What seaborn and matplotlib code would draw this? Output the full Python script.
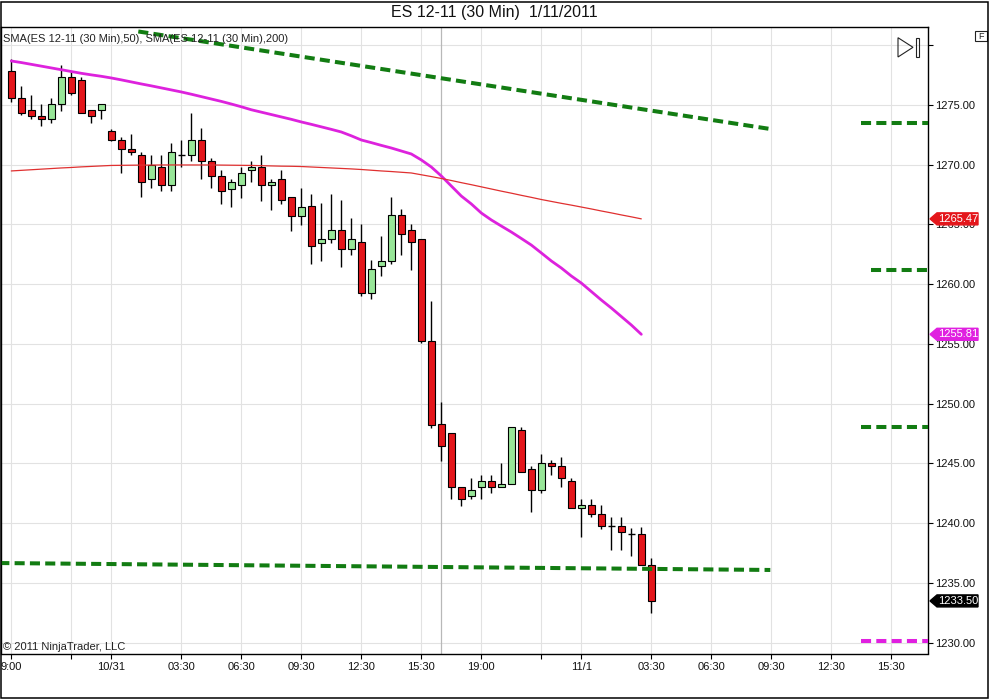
import matplotlib
matplotlib.use("Agg")
import matplotlib.pyplot as plt
import matplotlib.transforms as mtrans
from matplotlib.patches import Polygon, Rectangle
import seaborn as sns
import numpy as np
import pandas as pd

# ---------------- data ----------------
opens = [1277.85, 1275.56, 1274.56, 1274.08, 1273.80, 1275.06, 1277.30, 1277.10, 1274.56, 1274.56,
         1272.80, 1272.05, 1271.30, 1270.80, 1268.78, 1269.79, 1268.28, 1270.80, 1270.80, 1272.05,
         1270.30, 1269.03, 1268.00, 1268.28, 1269.54, 1269.80, 1268.28, 1268.78, 1267.28, 1265.74,
         1266.53, 1263.48, 1263.76, 1264.51, 1262.97, 1263.50, 1259.30, 1261.50, 1261.97, 1265.77,
         1264.51, 1263.76, 1255.28, 1248.28, 1247.53, 1243.01, 1242.26, 1243.00, 1243.51, 1243.01,
         1243.26, 1247.78, 1244.51, 1242.76, 1245.00, 1244.76, 1243.51, 1241.25, 1241.50, 1240.75,
         1239.75, 1239.75, 1239.13, 1239.07, 1236.53]
highs = [1278.85, 1276.60, 1275.84, 1275.08, 1275.60, 1278.35, 1277.85, 1277.30, 1274.56, 1275.06,
         1273.00, 1272.30, 1272.55, 1271.04, 1270.80, 1270.80, 1271.80, 1272.05, 1274.30, 1273.05,
         1270.54, 1269.56, 1268.78, 1269.79, 1270.30, 1270.80, 1268.78, 1269.54, 1267.28, 1268.03,
         1267.53, 1266.77, 1267.55, 1267.05, 1265.52, 1265.02, 1262.00, 1264.00, 1267.28, 1266.27,
         1265.02, 1263.76, 1258.62, 1250.12, 1247.53, 1243.01, 1243.76, 1244.01, 1244.01, 1245.00,
         1248.03, 1248.03, 1244.76, 1245.77, 1245.27, 1245.52, 1243.76, 1242.00, 1242.00, 1241.50,
         1240.50, 1240.50, 1239.60, 1239.70, 1237.12]
lows = [1275.28, 1274.20, 1273.80, 1273.24, 1273.50, 1274.50, 1275.80, 1274.30, 1273.50, 1273.80,
        1272.00, 1269.30, 1270.80, 1267.28, 1268.03, 1267.78, 1267.78, 1269.80, 1270.30, 1268.78,
        1268.03, 1266.70, 1266.50, 1267.24, 1268.53, 1267.00, 1266.24, 1266.74, 1264.48, 1264.98,
        1261.72, 1261.97, 1263.48, 1261.47, 1262.47, 1259.00, 1258.80, 1260.70, 1261.72, 1262.47,
        1261.22, 1255.10, 1248.00, 1245.21, 1242.00, 1241.47, 1242.00, 1242.00, 1242.51, 1243.01,
        1243.26, 1244.26, 1240.97, 1242.51, 1244.01, 1243.01, 1241.25, 1238.82, 1240.50, 1239.49,
        1237.76, 1237.76, 1237.26, 1236.53, 1232.52]
closes = [1275.56, 1274.31, 1274.05, 1273.80, 1275.08, 1277.30, 1276.00, 1274.30, 1274.05, 1275.06,
          1272.05, 1271.30, 1271.05, 1268.53, 1270.00, 1268.28, 1271.04, 1270.80, 1272.05, 1270.30,
          1269.03, 1267.78, 1268.53, 1269.28, 1269.79, 1268.28, 1268.53, 1267.03, 1265.74, 1266.49,
          1263.23, 1263.76, 1264.51, 1262.97, 1263.76, 1259.30, 1261.25, 1261.97, 1265.77, 1264.23,
          1263.50, 1255.28, 1248.22, 1246.49, 1243.01, 1242.00, 1242.76, 1243.51, 1243.01, 1243.26,
          1248.03, 1244.26, 1242.76, 1245.00, 1244.76, 1243.76, 1241.25, 1241.50, 1240.75, 1239.75,
          1239.75, 1239.30, 1239.13, 1236.53, 1233.50]

sma50 = [1278.68, 1278.55, 1278.40, 1278.25, 1278.10, 1277.95, 1277.80, 1277.65, 1277.52, 1277.40,
         1277.26, 1277.10, 1276.93, 1276.76, 1276.60, 1276.43, 1276.26, 1276.09, 1275.90, 1275.70,
         1275.50, 1275.30, 1275.08, 1274.85, 1274.60, 1274.40, 1274.20, 1274.00, 1273.80, 1273.58,
         1273.38, 1273.17, 1272.96, 1272.74, 1272.42, 1272.07, 1271.85, 1271.62, 1271.40, 1271.15,
         1270.90, 1270.40, 1269.81, 1269.06, 1268.22, 1267.38, 1266.72, 1265.96, 1265.38, 1264.87,
         1264.37, 1263.83, 1263.28, 1262.62, 1261.95, 1261.36, 1260.69, 1260.10, 1259.39, 1258.68,
         1258.01, 1257.30, 1256.59, 1255.81]
sma200 = [1269.48, 1269.53, 1269.58, 1269.63, 1269.68, 1269.73, 1269.77, 1269.82, 1269.86, 1269.90,
          1269.94, 1269.95, 1269.96, 1269.97, 1269.97, 1269.98, 1269.98, 1269.98, 1269.98, 1269.98,
          1269.98, 1269.97, 1269.96, 1269.95, 1269.94, 1269.92, 1269.90, 1269.88, 1269.87, 1269.85,
          1269.81, 1269.77, 1269.73, 1269.69, 1269.65, 1269.60, 1269.54, 1269.48, 1269.43, 1269.37,
          1269.31, 1269.16, 1269.01, 1268.85, 1268.68, 1268.50, 1268.33, 1268.15, 1267.97, 1267.79,
          1267.62, 1267.44, 1267.27, 1267.09, 1266.93, 1266.77, 1266.62, 1266.46, 1266.30, 1266.13,
          1265.97, 1265.80, 1265.64, 1265.47]

# drawn trend lines (bar index, price)
trend_top_x = [12.7, 75.9]
trend_top_y = [1281.15, 1272.99]
trend_bot_x = [-1.2, 75.9]
trend_bot_y = [1236.67, 1236.09]
# short horizontal level lines on the right (start bar index, price)
green_level_start = [85.0, 86.0, 85.0]
green_level_price = [1273.47, 1261.20, 1248.05]
magenta_level_start = [85.0]
magenta_level_price = [1230.12]

# price flags
flag_values = [1265.47, 1255.81, 1233.50]
flag_colors = ["#e4161b", "#e020e0", "#000000"]

xtick_pos = [0, 6, 10, 17, 23, 29, 35, 41, 47, 53, 57, 64, 70, 76, 82, 88]
xtick_lab = ["9:00", "", "10/31", "03:30", "06:30", "09:30", "12:30", "15:30", "19:00", "",
             "11/1", "03:30", "06:30", "09:30", "12:30", "15:30"]
ytick_pos = [1230, 1235, 1240, 1245, 1250, 1255, 1260, 1265, 1270, 1275, 1280]
session_break = 43

title = "ES 12-11 (30 Min)  1/11/2011"
legend_txt = "SMA(ES 12-11 (30 Min),50), SMA(ES 12-11 (30 Min),200)"
copyright_txt = "\u00a9 2011 NinjaTrader, LLC"

# ---------------- style ----------------
sns.set_theme(style="white")
plt.rcParams["font.family"] = ["Liberation Sans", "DejaVu Sans"]

W, H = 989, 699
fig = plt.figure(figsize=(W / 100, H / 100), dpi=100)
fig.patch.set_facecolor("white")
ax = fig.add_axes([1 / W, 1 - 653.5 / H, 927.3 / W, (653.5 - 26.7) / H])
ax.set_facecolor("white")

XMIN, XMAX = -1.03, 91.7
YMIN, YMAX = 1229.10, 1281.55
ax.set_xlim(XMIN, XMAX)
ax.set_ylim(YMIN, YMAX)

# grid
for yv in ytick_pos:
    ax.axhline(yv, color="#e2e2e2", lw=0.8, zorder=0)
for xv in xtick_pos:
    ax.axvline(xv, color="#e2e2e2", lw=0.8, zorder=0)
ax.axvline(session_break, color="#b8b8b8", lw=0.9, zorder=0)

# candles
df = pd.DataFrame({"o": opens, "h": highs, "l": lows, "c": closes})
df["i"] = np.arange(len(df))
ax.vlines(df["i"], df["l"], df["h"], color="black", lw=1.0, zorder=2)
up = df[df["c"] > df["o"]]
dn = df[df["c"] < df["o"]]
dj = df[df["c"] == df["o"]]
ax.bar(up["i"], up["c"] - up["o"], bottom=up["o"], width=0.7, color="#98e698",
       edgecolor="black", lw=0.8, zorder=3)
ax.bar(dn["i"], dn["o"] - dn["c"], bottom=dn["c"], width=0.7, color="#e4161b",
       edgecolor="black", lw=0.8, zorder=3)
ax.hlines(dj["o"], dj["i"] - 0.35, dj["i"] + 0.35, color="black", lw=1.0, zorder=3)

# SMAs
sma_idx = np.arange(len(sma50))
sns.lineplot(x=sma_idx, y=sma50, ax=ax, color="#dd22dd", lw=2.0, zorder=4)
sns.lineplot(x=sma_idx, y=sma200, ax=ax, color="#e03030", lw=0.9, zorder=4)

# trend lines / levels
dash = dict(color="#127c12", lw=2.9, dashes=(2.5, 1.3), solid_capstyle="butt",
            dash_capstyle="butt", zorder=5)
ax.plot(trend_top_x, trend_top_y, **dash)
ax.plot(trend_bot_x, trend_bot_y, **dash)
for xs, p in zip(green_level_start, green_level_price):
    ax.plot([xs, XMAX + 1], [p, p], **dash)
for xs, p in zip(magenta_level_start, magenta_level_price):
    d2 = dict(dash)
    d2["color"] = "#e020e0"
    ax.plot([xs, XMAX + 1], [p, p], **d2)

# axes
for s in ax.spines.values():
    s.set_color("black")
    s.set_linewidth(1.0)
    s.set_visible(True)
ax.yaxis.tick_right()
ax.set_yticks(ytick_pos)
ax.set_yticklabels([f"{v:.2f}" if v < 1280 else "" for v in ytick_pos])
ax.set_xticks(xtick_pos)
ax.set_xticklabels(xtick_lab)
ax.tick_params(axis="y", which="both", right=True, left=False, direction="out",
               length=3.5, width=0.8, color="black", pad=1.5, labelsize=8, labelcolor="#111111")
ax.tick_params(axis="x", which="both", bottom=True, direction="out", length=3.8,
               width=0.8, color="black", pad=2.0, labelsize=8, labelcolor="#111111")
ax.set_xlabel("")
ax.set_ylabel("")

# price flags on the right axis
bt = mtrans.blended_transform_factory(fig.transFigure, ax.transData)
hh = 6.0 / 11.95
for v, c in zip(flag_values, flag_colors):
    x0, x1, x2 = 930 / W, 937 / W, 978 / W
    poly = Polygon([(x0, v), (x1, v + hh), (x2, v + hh), (x2, v - hh), (x1, v - hh)],
                   closed=True, transform=bt, facecolor=c, edgecolor=c, clip_on=False, zorder=10)
    fig.add_artist(poly)
    fig.text(938 / W, v, f"{v:.2f}", transform=bt, color="white", fontsize=8,
             ha="left", va="center", zorder=11)

# texts
fig.text(494.5 / W, 1 - 13 / H, title, ha="center", va="center", fontsize=11.5, color="#111111")
ax.text(3 / W, 1 - 39 / H, legend_txt, transform=fig.transFigure, ha="left", va="center",
        fontsize=8, color="#222222", zorder=6)
ax.text(3 / W, 1 - 647 / H, copyright_txt, transform=fig.transFigure, ha="left", va="center",
        fontsize=8, color="#222222", zorder=6)

# ">|" icon
tri = Polygon([(898 / W, 1 - 37.7 / H), (898 / W, 1 - 57 / H), (913 / W, 1 - 47.3 / H)],
              closed=True, fill=False, edgecolor="#222222", lw=0.8, transform=fig.transFigure)
fig.add_artist(tri)
fig.add_artist(Rectangle((915.5 / W, 1 - 57.3 / H), 3.5 / W, 19.6 / H, fill=False,
                         edgecolor="#222222", lw=0.8, transform=fig.transFigure))
# "F" box
fig.add_artist(Rectangle((975 / W, 1 - 41 / H), 11.5 / W, 9.5 / H, fill=False,
                         edgecolor="#222222", lw=0.8, transform=fig.transFigure))
fig.text(980.7 / W, 1 - 36.3 / H, "F", ha="center", va="center", fontsize=6.5, color="#222222")

# outer border
fig.add_artist(Rectangle((0.5 / W, 1.5 / H), 987.5 / W, 696 / H, fill=False, edgecolor="black",
                         lw=1.1, transform=fig.transFigure))

fig.savefig("out.png", dpi=100, facecolor="white")
